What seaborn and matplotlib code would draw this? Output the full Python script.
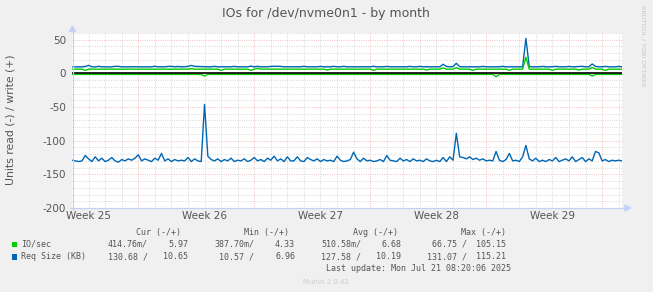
import numpy as np
import pandas as pd
import matplotlib
matplotlib.use("Agg")
import matplotlib.pyplot as plt
from matplotlib.patches import Rectangle, Polygon
from matplotlib.lines import Line2D
import seaborn as sns

# ---------------- data ----------------
title = "IOs for /dev/nvme0n1 - by month"
ylabel = "Units read (-) / write (+)"
week_ticks = [1, 8, 15, 22, 29]
week_labels = ["Week 25", "Week 26", "Week 27", "Week 28", "Week 29"]
y_ticks = [-200, -150, -100, -50, 0, 50]

# samples every 0.2 day
n_points = 167
day_step = 0.2

req_read = [
    -129, -130, -131, -130, -122, -127, -131, -124, -130, -126,
    -131, -129, -125, -130, -132, -128, -130, -127, -129, -126,
    -121, -130, -127, -129, -131, -126, -129, -119, -130, -127,
    -131, -128, -130, -129, -130, -125, -131, -127, -130, -131,
    -46, -123, -128, -130, -127, -131, -128, -130, -126, -131,
    -129, -130, -127, -131, -129, -125, -130, -128, -131, -126,
    -129, -123, -130, -127, -131, -124, -130, -130, -124, -130,
    -131, -125, -128, -130, -127, -131, -128, -130, -129, -131,
    -123, -129, -131, -130, -128, -117, -127, -131, -126, -130,
    -129, -131, -130, -128, -131, -122, -129, -130, -131, -126,
    -130, -128, -131, -127, -130, -129, -131, -127, -130, -131,
    -129, -131, -125, -131, -124, -129, -89, -124, -125, -127,
    -124, -128, -126, -129, -127, -130, -129, -130, -116, -129,
    -131, -128, -119, -130, -129, -131, -124, -107, -127, -130,
    -126, -131, -129, -131, -128, -130, -125, -131, -129, -127,
    -130, -124, -131, -128, -125, -131, -127, -130, -116, -118,
    -130, -128, -131, -129, -130, -129, -130,
]
req_write = [
    9.8, 9.8, 9.6, 9.8, 10.2, 12.0, 9.8, 9.7, 10.5, 9.8,
    9.8, 9.6, 9.8, 10.5, 10.4, 9.8, 9.7, 9.8, 9.8, 9.9,
    9.8, 9.7, 9.8, 9.8, 9.8, 10.6, 9.8, 9.8, 9.8, 10.4,
    10.5, 9.8, 10.3, 9.8, 9.9, 10.4, 11.8, 10.5, 10.3, 10.2,
    10.0, 9.8, 9.8, 10.5, 9.8, 9.8, 9.7, 9.8, 9.8, 10.4,
    9.8, 9.8, 9.8, 9.8, 10.8, 9.8, 10.5, 9.8, 9.8, 9.8,
    10.4, 10.5, 10.6, 10.4, 9.8, 9.8, 9.8, 9.8, 9.8, 9.9,
    10.5, 9.8, 9.8, 9.8, 9.8, 10.4, 9.8, 9.8, 9.8, 10.5,
    9.8, 9.8, 10.5, 9.8, 9.8, 9.8, 9.8, 9.8, 9.8, 9.8,
    9.8, 10.5, 9.8, 9.8, 9.8, 10.4, 9.8, 9.8, 9.8, 9.8,
    9.8, 9.8, 10.4, 9.8, 9.8, 10.5, 9.8, 9.8, 9.8, 9.8,
    9.8, 9.8, 13.5, 10.5, 9.8, 10.2, 15.0, 10.0, 9.8, 9.8,
    9.8, 9.8, 9.8, 9.8, 10.4, 9.8, 9.8, 9.8, 9.8, 9.8,
    10.5, 9.8, 9.8, 9.8, 9.8, 9.8, 9.8, 52.0, 10.0, 9.8,
    9.8, 9.8, 10.4, 9.8, 9.8, 9.8, 10.5, 9.8, 9.8, 9.8,
    10.4, 9.8, 9.8, 10.3, 10.5, 9.8, 9.8, 14.0, 10.5, 9.8,
    9.8, 10.4, 9.8, 9.8, 9.8, 10.4, 9.8,
]
io_write = [
    6.3, 6.3, 6.3, 6.3, 4.5, 6.3, 6.3, 6.3, 6.3, 6.3,
    6.3, 6.3, 6.3, 6.3, 6.3, 6.3, 6.3, 6.3, 6.3, 6.3,
    6.3, 6.3, 6.3, 6.3, 6.3, 6.3, 6.3, 6.3, 6.3, 6.3,
    6.3, 6.3, 6.3, 6.3, 6.3, 6.3, 7.0, 6.3, 6.3, 6.3,
    6.3, 6.3, 6.3, 6.3, 6.3, 4.5, 6.3, 6.3, 6.3, 6.3,
    6.3, 6.3, 6.3, 6.3, 4.5, 6.3, 7.5, 6.3, 6.3, 6.3,
    6.3, 6.3, 6.3, 6.3, 6.3, 6.3, 6.3, 6.3, 6.3, 6.3,
    6.3, 6.3, 6.3, 6.3, 6.3, 6.3, 6.3, 5.0, 6.3, 6.3,
    6.3, 6.3, 6.3, 6.3, 6.3, 6.3, 6.3, 6.3, 6.3, 6.3,
    6.3, 4.5, 6.3, 6.3, 6.3, 6.3, 6.3, 6.3, 6.3, 6.3,
    6.3, 6.3, 6.3, 6.3, 6.3, 6.3, 6.3, 5.0, 6.3, 6.3,
    6.3, 6.3, 8.0, 6.3, 6.3, 6.3, 8.5, 6.3, 6.3, 6.3,
    6.3, 4.5, 6.3, 6.3, 6.3, 6.3, 6.3, 6.3, 6.3, 6.3,
    6.3, 6.3, 4.5, 6.3, 6.3, 6.3, 6.3, 24.0, 6.3, 6.3,
    6.3, 6.3, 6.3, 6.3, 6.3, 4.5, 6.3, 6.3, 6.3, 6.3,
    6.3, 6.3, 6.3, 5.0, 6.3, 6.3, 6.3, 9.0, 6.3, 6.3,
    6.3, 4.5, 6.3, 6.3, 6.3, 6.3, 6.3,
]
io_read = [-1.5] * 40 + [-4.0] + [-1.5] * 87 + [-5.0] + [-1.5] * 28 + [-4.0] + [-1.5] * 9

legend_names = ["IO/sec", "Req Size (KB)"]
legend_colors = ["#00CC00", "#0066B3"]
cur_vals = [("414.76m/", "5.97"), ("130.68 /", "10.65")]
min_vals = [("387.70m/", "4.33"), ("10.57 /", "6.96")]
avg_vals = [("510.58m/", "6.68"), ("127.58 /", "10.19")]
max_vals = [("66.75 /", "105.15"), ("131.07 /", "115.21")]
headers = ["Cur (-/+)", "Min (-/+)", "Avg (-/+)", "Max (-/+)"]
last_update = "Last update: Mon Jul 21 08:20:06 2025"
footer = "Munin 2.0.42"
watermark = "RRDTOOL / TOBI OETIKER"

# ---------------- figure ----------------
W, H = 653, 292
plt.rcParams["font.family"] = ["DejaVu Sans"]
fig = plt.figure(figsize=(W / 100, H / 100), dpi=100, facecolor="#F0F0F0")


def fx(px):
    return px / W


def fy(py):
    return 1 - py / H


ax = fig.add_axes([fx(72), fy(208), fx(622) - fx(72), fy(33) - fy(208)])
ax.set_facecolor("white")

days = np.arange(n_points) * day_step
df = pd.DataFrame({
    "day": days,
    "req_read": req_read,
    "req_write": req_write,
    "io_read": io_read,
    "io_write": io_write,
})

x_max = (n_points - 1) * day_step
ax.set_xlim(0, x_max)
ax.set_ylim(-200, 60)

# grid
minor_col = "#d4d4d4"
major_col = "#f5b5b5"
dot = (0, (1, 1.5))
for yv in np.arange(-190, 61, 10):
    if yv % 50 == 0:
        continue
    ax.axhline(yv, color=minor_col, lw=0.65, ls=dot, zorder=0)
for yv in [-150, -100, -50, 0, 50]:
    ax.axhline(yv, color=major_col, lw=0.65, ls=dot, zorder=0.5)
for xv in np.arange(1, 34, 1):
    if (xv - 4) % 7 == 0:
        ax.axvline(xv, color=major_col, lw=0.65, ls=dot, zorder=0.5)
    else:
        ax.axvline(xv, color=minor_col, lw=0.65, ls=dot, zorder=0)

lw = 1.0
sns.lineplot(data=df, x="day", y="req_read", ax=ax, color="#0066B3", lw=lw, zorder=3)
sns.lineplot(data=df, x="day", y="req_write", ax=ax, color="#0066B3", lw=lw, zorder=3)
sns.lineplot(data=df, x="day", y="io_read", ax=ax, color="#00CC00", lw=lw, zorder=4)
sns.lineplot(data=df, x="day", y="io_write", ax=ax, color="#00CC00", lw=lw, zorder=4)
ax.axhline(0, color="black", lw=1.2, zorder=5)

for s in ax.spines.values():
    s.set_visible(False)

ax.set_xticks(week_ticks)
ax.set_xticklabels(week_labels)
ax.set_yticks(y_ticks)
ax.set_yticklabels([str(v) for v in y_ticks])
ax.tick_params(axis="both", length=0, labelsize=7.5, colors="#555555")
ax.tick_params(axis="y", pad=4.3)
ax.tick_params(axis="x", pad=2.0)
ax.set_xlabel("")
ax.set_ylabel("")

# axis lines with arrows
axis_col = "#c8cff5"
fig.add_artist(Line2D([fx(72.5), fx(72.5)], [fy(209), fy(30)], color=axis_col, lw=0.9))
fig.add_artist(Line2D([fx(70), fx(626)], [fy(208), fy(208)], color=axis_col, lw=0.9))
fig.add_artist(Polygon([[fx(69.5), fy(31.5)], [fx(75.5), fy(31.5)], [fx(72.5), fy(26)]],
                       closed=True, color=axis_col))
fig.add_artist(Polygon([[fx(625), fy(205)], [fx(625), fy(211)], [fx(630.5), fy(208)]],
                       closed=True, color=axis_col))

# title, labels
txt_col = "#555555"
fig.text(fx(326), fy(14), title, ha="center", va="center", fontsize=9, color=txt_col)
fig.text(fx(11), fy(120), ylabel, ha="center", va="center", rotation=90,
         fontsize=7.8, color=txt_col)
fig.text(fx(643), fy(5), watermark, ha="center", va="top", rotation=270,
         fontsize=4.6, color="#c4c4c4")

# legend
mono = "DejaVu Sans Mono"
lfs = 6.0
row_y = [244.3, 256.7]
head_y = 232.3
head_right = [181, 289, 398, 506]
for hx, h in zip(head_right, headers):
    fig.text(fx(hx), fy(head_y), h, ha="right", va="center", family=mono,
             fontsize=lfs, color=txt_col)
col_right = [(148, 188), (254, 295), (361, 401), (467, 506)]
groups = [cur_vals, min_vals, avg_vals, max_vals]
for i, (name, colr) in enumerate(zip(legend_names, legend_colors)):
    yy = row_y[i]
    fig.add_artist(Rectangle((fx(11.5), fy(yy + 3)), fx(5.5), 5.5 / H,
                             facecolor=colr, edgecolor="none"))
    fig.text(fx(21), fy(yy), name, ha="left", va="center", family=mono,
             fontsize=lfs, color=txt_col)
    for (xr, xw), g in zip(col_right, groups):
        fig.text(fx(xr), fy(yy), g[i][0], ha="right", va="center", family=mono,
                 fontsize=lfs, color=txt_col)
        fig.text(fx(xw), fy(yy), g[i][1], ha="right", va="center", family=mono,
                 fontsize=lfs, color=txt_col)
fig.text(fx(511), fy(268.3), last_update, ha="right", va="center", family=mono,
         fontsize=lfs, color=txt_col)
fig.text(fx(326), fy(281.7), footer, ha="center", va="center", fontsize=5,
         color="#cccccc")

fig.savefig("out.png", dpi=100, facecolor=fig.get_facecolor())
